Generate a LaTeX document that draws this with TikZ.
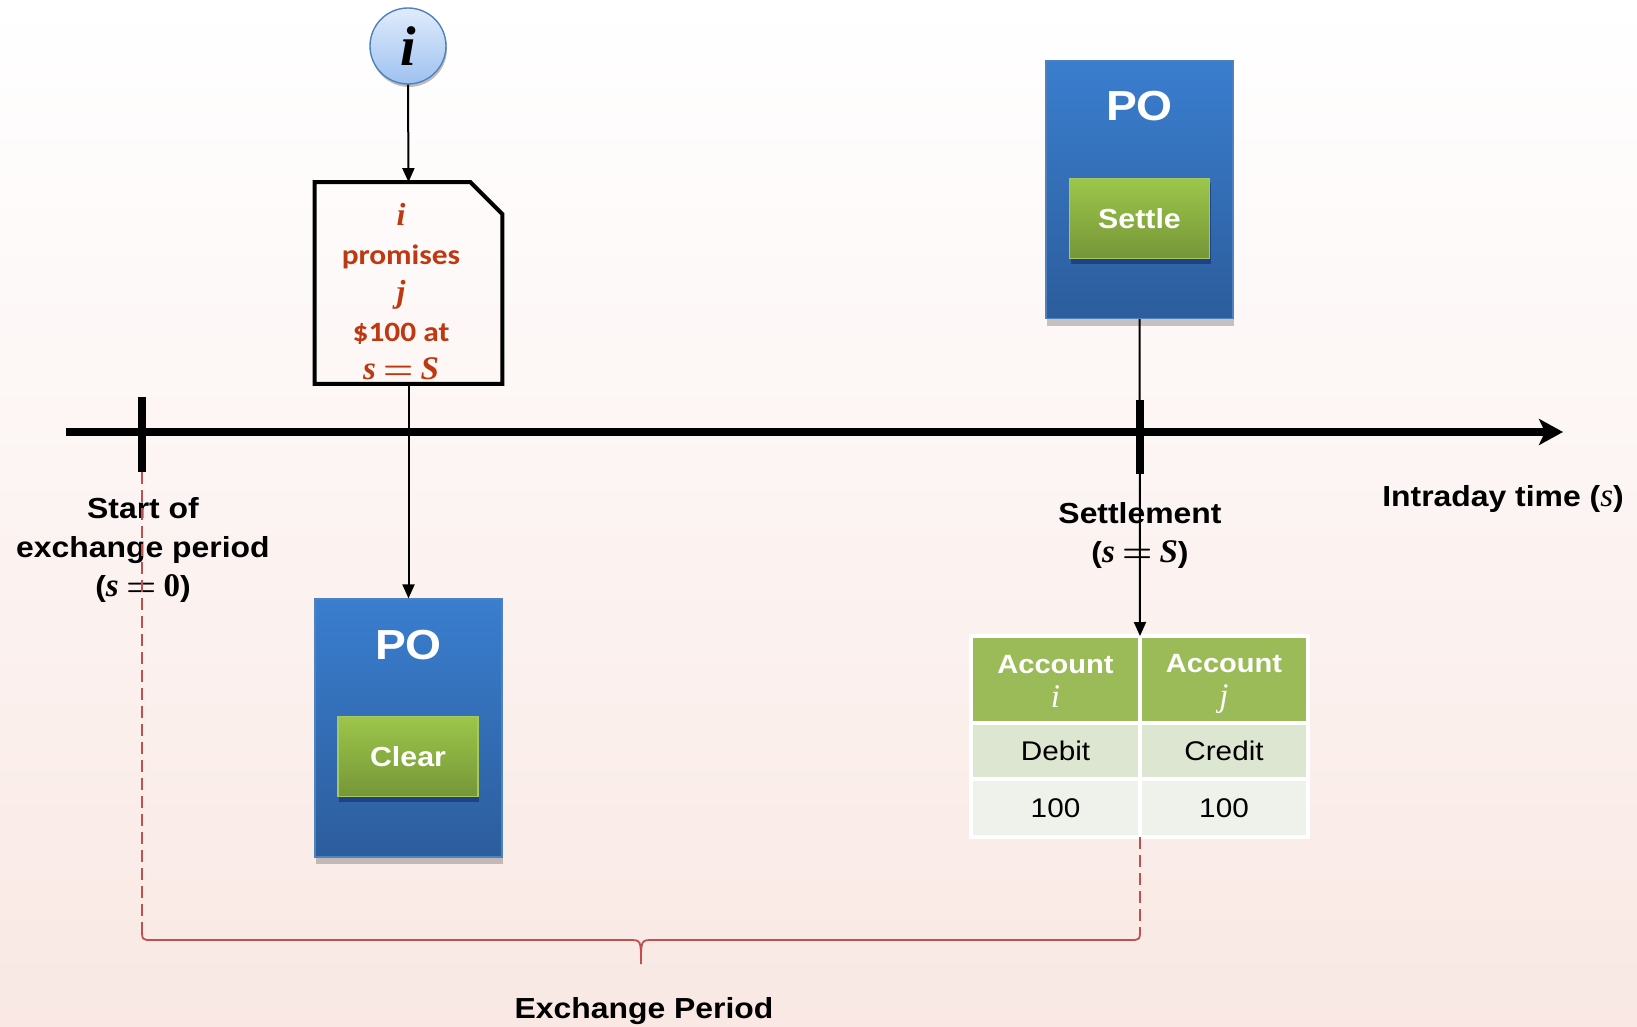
\documentclass[tikz,border=0pt]{standalone}
\usepackage{fontspec}
\setmainfont{Liberation Sans}[FakeStretch=1.1]
\newfontfamily\calibri{Carlito}[FakeStretch=1.12]
\newfontfamily\serifm{Liberation Serif}
\newcommand{\mv}[1]{{\serifm\bfseries\itshape #1}}
\newcommand{\mr}[1]{{\serifm\mdseries\itshape #1}}
\newcommand{\mb}[1]{{\serifm\bfseries\upshape #1}}
\newcommand{\meq}{\kern0.22em{\boldmath$=$}\kern0.22em}
\usetikzlibrary{arrows.meta,shadows,calc}
\definecolor{bgbot}{RGB}{249,232,227}
\definecolor{potop}{RGB}{58,126,207}
\definecolor{pobot}{RGB}{44,93,156}
\definecolor{poedge}{RGB}{79,129,189}
\definecolor{grtop}{RGB}{156,198,74}
\definecolor{grbot}{RGB}{118,150,56}
\definecolor{gredge}{RGB}{165,200,95}
\definecolor{hdr}{RGB}{155,187,89}
\definecolor{rowa}{RGB}{221,230,209}
\definecolor{rowb}{RGB}{239,242,234}
\definecolor{promred}{RGB}{190,56,18}
\definecolor{bracered}{RGB}{192,80,77}
\definecolor{ctop}{RGB}{224,236,252}
\definecolor{cbot}{RGB}{158,193,240}
\begin{document}
\begin{tikzpicture}[x=0.5pt,y=-0.5pt,
  pobox/.style={rectangle, top color=potop, bottom color=pobot, draw=poedge, line width=0.6pt,
    minimum width=93.5pt, minimum height=129pt, inner sep=0pt,
    drop shadow={shadow xshift=0.5pt, shadow yshift=-3.5pt, fill=black, opacity=0.22}},
  grbox/.style={rectangle, top color=grtop, bottom color=grbot, draw=gredge, line width=0.6pt,
    minimum width=70pt, minimum height=40pt, inner sep=0pt, text=white,
    font=\fontsize{13.8}{17}\selectfont\bfseries,
    drop shadow={shadow xshift=0.5pt, shadow yshift=-2.5pt, fill=black!70!blue, opacity=0.35}},
  potext/.style={text=white, font=\fontsize{21}{25}\selectfont\bfseries},
  conn/.style={line width=1pt, -{Triangle[length=7pt,width=6pt]}},
  tick/.style={line width=4pt},
  lbl/.style={align=center, font=\fontsize{14.5}{19.5}\selectfont\bfseries},
  cell/.style={rectangle, draw=white, line width=1.6pt, inner sep=0pt, outer sep=0pt, align=center},
  hcell/.style={cell, fill=hdr, minimum height=43.5pt, text=white, font=\fontsize{13.2}{17}\selectfont\bfseries},
  bcell/.style={cell, font=\fontsize{13.5}{17}\selectfont},
  redline/.style={draw=bracered, line width=0.9pt},
]
\useasboundingbox (0,0) rectangle (1637,1027);
\shade[top color=white, bottom color=bgbot, middle color={rgb,255:red,252;green,244;blue,242}] (0,0) rectangle (1637,1027);

% timeline
\coordinate (tl0) at (66,432);
\coordinate (tl1) at (1563,432);
\draw[line width=3.6pt, -{Stealth[length=12pt,width=13pt,inset=3pt]}] (tl0) -- (tl1);
\coordinate (t1a) at (142,397);
\coordinate (t1b) at (142,472);
\coordinate (t2a) at (1140,400);
\coordinate (t2b) at (1140,474);
\draw[tick] (t1a) -- (t1b);
\draw[tick] (t2a) -- (t2b);

% labels
\node[lbl] (lstart) at (143,550) {Start of\\exchange period\\({\fontsize{16.5}{19.5}\selectfont\mv{s}\meq\mb{0}})};
\node[lbl] (lsettle) at (1140,535) {Settlement\\({\fontsize{16.5}{19.5}\selectfont\mv{s}\meq\mv{S}})};
\node[lbl] (lintra) at (1503,499) {Intraday time ({\fontsize{16.5}{19.5}\selectfont\mr{s}})};
\node[lbl] (lexch) at (644,1011) {Exchange Period};

% info circle
\node[circle, minimum size=38pt, inner sep=0pt, top color=ctop, bottom color=cbot, draw=poedge, line width=0.7pt,
  drop shadow={shadow xshift=0.5pt, shadow yshift=-1.5pt, fill=black, opacity=0.25},
  font=\fontsize{28}{30}\selectfont] (info) at (408,46) {\mv{i}};

% document
\node[rectangle, minimum width=93.5pt, minimum height=100.5pt, inner sep=0pt] (doc) at (408.5,283) {};
\draw[line width=2pt, line join=miter] (doc.north west) -- ($(doc.north east)+(-16pt,0)$) -- ($(doc.north east)+(0,-16pt)$) -- (doc.south east) -- (doc.south west) -- cycle;
\node[align=center, inner sep=0pt, text=promred, font=\calibri\bfseries\fontsize{14}{19.25}\selectfont] (doctext) at (401,292)
  {{\fontsize{16}{19.25}\selectfont\mv{i}}\\promises\\{\fontsize{16}{19.25}\selectfont\mv{j}}\\\$100 at\\{\fontsize{16.5}{19.25}\selectfont\mv{s}\meq\mv{S}}};

% PO clear
\node[pobox] (po1) at (408.5,728) {};
\node[potext] (po1t) at (408.5,645) {PO};
\node[grbox] (clear) at (408,756.5) {Clear};

% PO settle
\node[pobox] (po2) at (1139.5,189.5) {};
\node[potext] (po2t) at (1139.5,106) {PO};
\node[grbox] (settle) at (1139.5,218.5) {Settle};

% table
\node[hcell, minimum width=84.5pt] (h1) at (1055.5,679.5) {\rule{0pt}{14pt}Account\\{\fontsize{16.5}{17}\selectfont\mr{i}\vphantom{j}}};
\node[hcell, minimum width=84pt] (h2) at (1224,679.5) {\rule{0pt}{14pt}Account\\{\fontsize{16.5}{17}\selectfont\mr{j}}};
\node[bcell, fill=rowa, minimum width=84.5pt, minimum height=28pt] (d1) at (1055.5,751) {Debit};
\node[bcell, fill=rowa, minimum width=84pt, minimum height=28pt] (d2) at (1224,751) {Credit};
\node[bcell, fill=rowb, minimum width=84.5pt, minimum height=29pt] (v1) at (1055.5,808) {100};
\node[bcell, fill=rowb, minimum width=84pt, minimum height=29pt] (v2) at (1224,808) {100};

% connectors
\draw[conn] (info.south) -- (doc.north);
\draw[conn] (doc.south) -- (po1.north);
\draw[conn] (po2.south) -- (h1.north east);

% dashed lines and brace
\coordinate (brL) at (142,928);
\coordinate (brR) at (1140,928);
\coordinate (brTip) at (641,964);
\draw[redline, dash pattern=on 6pt off 3pt] (t1b) -- (brL);
\draw[redline, dash pattern=on 6pt off 3pt] (v1.south east) -- (brR);
\draw[redline] (brL) .. controls (142,940) .. (152,940) -- (629,940) .. controls (641,940) .. (brTip)
  .. controls (641,940) .. (653,940) -- (1130,940) .. controls (1140,940) .. (brR);
\end{tikzpicture}
\end{document}
